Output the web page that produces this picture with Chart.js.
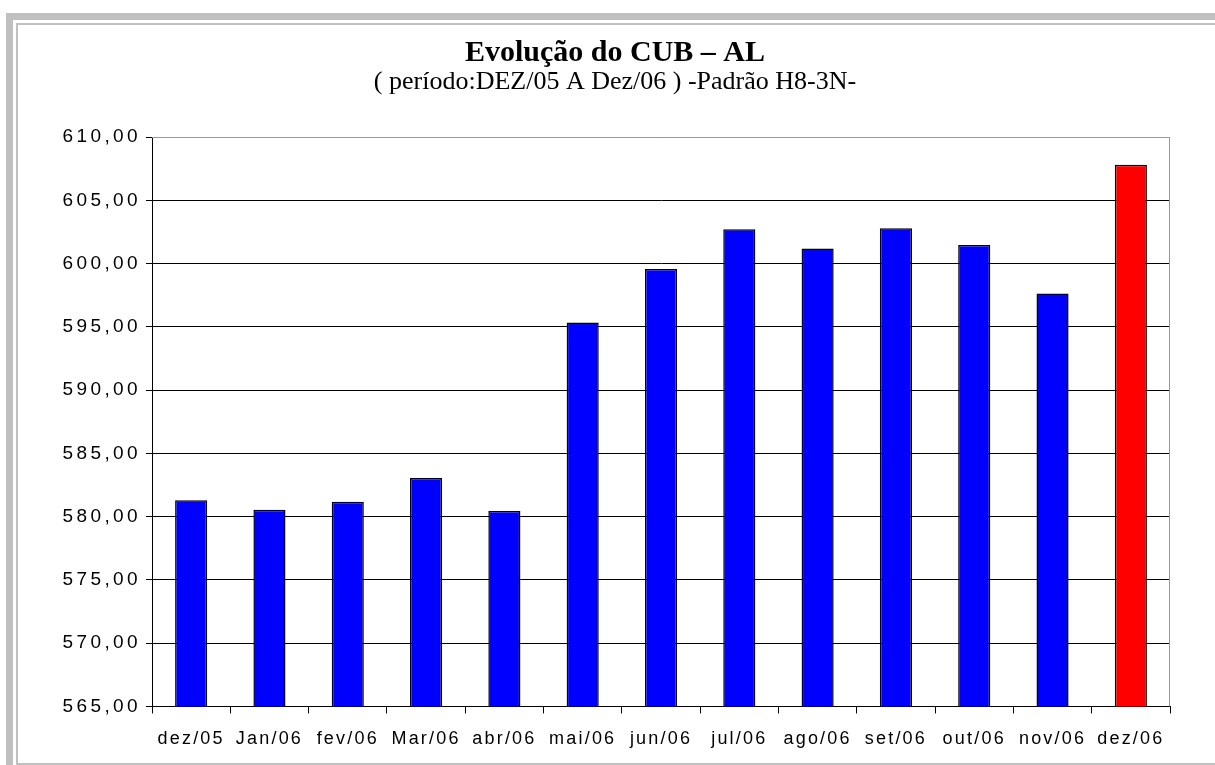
<!DOCTYPE html>
<html>
<head>
<meta charset="utf-8">
<title>Evolução do CUB – AL</title>
<script src="https://cdn.jsdelivr.net/npm/chart.js@4.4.1/dist/chart.umd.min.js"></script>
<style>
    body { margin: 0; background: #fff; overflow: hidden; }
    .frameOuter { position: absolute; left: 6px; top: 13px; right: -20px; bottom: -20px; border-top: 7px solid #c0c0c0; border-left: 7px solid #c0c0c0; }
    .frameInner { position: absolute; left: 16px; top: 23px; right: -10px; height: 742px; box-sizing: border-box; border: 2px solid #c0c0c0; border-right: none; }
    .chartBox { position: absolute; left: 0; top: 0; width: 1215px; height: 765px; }
</style>
</head>
<body>
<div class="frameOuter"></div>
<div class="frameInner"></div>
<div class="chartBox"><canvas id="cubChart"></canvas></div>
<script>
// --- Data ---
const months = ['dez/05', 'Jan/06', 'fev/06', 'Mar/06', 'abr/06', 'mai/06', 'jun/06', 'jul/06', 'ago/06', 'set/06', 'out/06', 'nov/06', 'dez/06'];
const cubValues = [581.29, 580.55, 581.18, 583.05, 580.45, 595.34, 599.57, 602.70, 601.18, 602.78, 601.47, 597.63, 607.81];
const barColors = ['#0000ff', '#0000ff', '#0000ff', '#0000ff', '#0000ff', '#0000ff', '#0000ff', '#0000ff', '#0000ff', '#0000ff', '#0000ff', '#0000ff', '#ff0000'];
const yMin = 565;
const yMax = 610;
const yStep = 5;
const titleText = 'Evolução do CUB – AL';
const subtitleText = '( período:DEZ/05 A Dez/06 ) -Padrão H8-3N-';

// gray frame round the plot area (top and right edges)
const plotFrame = {
    id: 'plotFrame',
    beforeDatasetsDraw(chart) {
        const a = chart.chartArea;
        const ctx = chart.ctx;
        ctx.save();
        ctx.strokeStyle = '#999999';
        ctx.lineWidth = 1;
        ctx.beginPath();
        ctx.moveTo(a.left, a.top + 0.5);
        ctx.lineTo(a.right - 0.5, a.top + 0.5);
        ctx.lineTo(a.right - 0.5, a.bottom);
        ctx.stroke();
        ctx.restore();
    }
};

// the original axis text is wide, so spread the tick labels a little
function spaceLabels(scale, spacing) {
    if (scale._spaced) return;
    const drawLabels = scale.drawLabels;
    scale.drawLabels = function (area) {
        this.ctx.save();
        this.ctx.letterSpacing = spacing;
        drawLabels.call(this, area);
        this.ctx.restore();
    };
    scale._spaced = true;
}

function formatValue(v) {
    return v.toFixed(2).replace('.', ',');
}

function drawChart() {
    const ctx = document.getElementById('cubChart').getContext('2d');
    new Chart(ctx, {
        type: 'bar',
        data: {
            labels: months,
            datasets: [{
                data: cubValues,
                backgroundColor: barColors,
                borderColor: '#000000',
                borderWidth: 1.5,
                borderSkipped: false,
                categoryPercentage: 0.41,
                barPercentage: 1
            }]
        },
        options: {
            responsive: true,
            maintainAspectRatio: false,
            animation: false,
            layout: { padding: { left: 60, right: 45, top: 0, bottom: 0 } },
            plugins: {
                legend: { display: false },
                tooltip: { enabled: false },
                title: {
                    display: true,
                    text: titleText,
                    color: '#000',
                    font: { family: '"Liberation Serif", "Times New Roman", serif', size: 30, weight: 'bold', lineHeight: 1 },
                    padding: { top: 38, bottom: 0 }
                },
                subtitle: {
                    display: true,
                    text: subtitleText,
                    color: '#000',
                    font: { family: '"Liberation Serif", "Times New Roman", serif', size: 26, lineHeight: 1 },
                    padding: { top: 1, bottom: 42 }
                }
            },
            scales: {
                x: {
                    offset: true,
                    afterFit(scale) { spaceLabels(scale, '2.2px'); },
                    grid: { offset: true, drawOnChartArea: false, drawTicks: true, tickLength: 7, color: '#000' },
                    border: { color: '#000', width: 1 },
                    ticks: {
                        color: '#000',
                        padding: 24,
                        maxRotation: 0,
                        autoSkip: false,
                        font: { family: '"Liberation Sans", Arial, sans-serif', size: 18, lineHeight: 0.2 }
                    }
                },
                y: {
                    min: yMin,
                    max: yMax,
                    afterFit(scale) { scale.width = 92; spaceLabels(scale, '3.4px'); },
                    grid: {
                        color: (c) => c.tick && c.tick.value === yMax ? '#999999' : '#000000',
                        tickLength: 6,
                        tickColor: '#000'
                    },
                    border: { color: '#000', width: 1 },
                    ticks: {
                        stepSize: yStep,
                        color: '#000',
                        padding: 5,
                        font: { family: '"Liberation Sans", Arial, sans-serif', size: 19 },
                        callback: (v) => formatValue(v)
                    }
                }
            }
        },
        plugins: [plotFrame]
    });
}

window.addEventListener('DOMContentLoaded', drawChart);
</script>
</body>
</html>
